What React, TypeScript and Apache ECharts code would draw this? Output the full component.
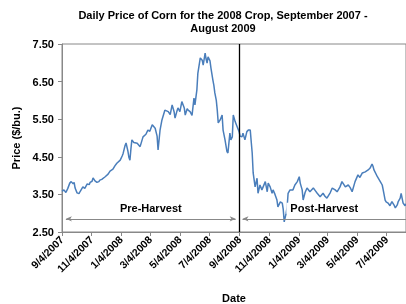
import React, { useEffect, useRef } from "react";
import * as echarts from "echarts";

// Days since 9/4/2007
const days = [
  0, 4, 8, 12, 16, 19, 23, 25, 27, 31, 35, 37, 43, 47, 52, 56, 58, 62, 64, 68, 72, 76, 78, 82, 89, 95, 99, 105, 109, 113,
  120, 124, 126, 130, 132, 136, 138, 140, 142, 144, 148, 155, 161, 167, 173, 177, 181, 186, 192, 196, 198, 202, 206, 212,
  219, 223, 227, 231, 233, 237, 239, 243, 247, 252, 254, 258, 260, 264, 268, 272, 274, 278, 280, 285, 289, 291, 295, 297,
  299, 301, 305, 307, 311, 313, 315, 318, 320, 322, 326, 330, 332, 336, 340, 342, 346, 348, 351, 353, 357, 361, 365, 367,
  371, 373, 377, 381, 384, 388, 390, 392, 394, 398, 402, 404, 408, 412, 419, 423, 425, 429, 433, 435, 439, 443, 445, 450,
  454, 456, 458, 462, 464, 466, 470, 476, 480, 485, 489, 491, 495, 497, 501, 505, 511, 518, 522, 526, 532, 538, 542, 546,
  553, 557, 563, 567, 573, 577, 584, 590, 594, 598, 604, 610, 614, 619, 625, 631, 635, 639, 641, 643, 650, 656, 660, 662,
  666, 668, 672, 676, 680, 685, 687, 691, 693, 697, 699, 703, 707, 709,
];
// Price ($/bu.)
const prices = [
  3.58, 3.62, 3.55, 3.66, 3.8, 3.84, 3.78, 3.82, 3.67, 3.54, 3.52, 3.57, 3.7, 3.66, 3.78, 3.76, 3.82, 3.85, 3.94, 3.86,
  3.82, 3.84, 3.88, 3.9, 3.97, 4.04, 4.12, 4.17, 4.26, 4.33, 4.41, 4.52, 4.59, 4.8, 4.87, 4.64, 4.48, 4.41, 4.7, 4.95,
  4.88, 4.86, 4.77, 5.03, 5.1, 5.21, 5.18, 5.35, 5.26, 5.05, 4.68, 5.2, 5.48, 5.74, 5.7, 5.62, 5.88, 5.7, 5.53, 5.72, 5.8,
  5.7, 5.97, 5.8, 5.61, 5.78, 5.74, 5.7, 5.6, 6.06, 5.88, 6.28, 6.72, 7.13, 7.07, 6.94, 7.26, 7.1, 6.99, 7.16, 7.05, 6.86,
  6.54, 6.4, 6.2, 6.0, 5.74, 5.4, 5.48, 5.61, 5.21, 4.95, 4.64, 4.6, 5.13, 4.95, 5.03, 5.61, 5.43, 5.3, 5.17, 5.05, 5.03,
  5.13, 4.95, 5.17, 5.21, 5.21, 4.9, 4.6, 4.07, 3.7, 3.93, 3.53, 3.75, 3.62, 3.84, 3.57, 3.8, 3.7, 3.53, 3.62, 3.5, 3.35,
  3.17, 3.3, 3.27, 3.1, 2.77, 3.0, 3.17, 3.53, 3.62, 3.62, 3.75, 3.84, 3.97, 3.8, 3.62, 3.35, 3.55, 3.67, 3.57, 3.67, 3.6,
  3.53, 3.44, 3.53, 3.45, 3.4, 3.55, 3.67, 3.62, 3.57, 3.7, 3.84, 3.7, 3.75, 3.68, 3.57, 3.84, 4.02, 3.95, 4.07, 4.1, 4.15,
  4.2, 4.31, 4.25, 4.15, 3.97, 3.84, 3.75, 3.62, 3.35, 3.3, 3.27, 3.2, 3.31, 3.2, 3.14, 3.22, 3.31, 3.4, 3.53, 3.27, 3.2,
  3.25,
];

const tickDays = [0, 61, 122, 182, 243, 304, 366, 427, 488, 547, 608, 669];
const tickLabels = [
  "9/4/2007", "11/4/2007", "1/4/2008", "3/4/2008", "5/4/2008", "7/4/2008",
  "9/4/2008", "11/4/2008", "1/4/2009", "3/4/2009", "5/4/2009", "7/4/2009",
];
const yTicks = [2.5, 3.5, 4.5, 5.5, 6.5, 7.5];
const harvestDay = 366;
const preHarvest = { label: "Pre-Harvest", from: 8, to: 358, y: 2.85 };
const postHarvest = { label: "Post-Harvest", from: 372, to: 709, y: 2.85 };

const FONT = "Liberation Sans, Arial, sans-serif";

export default function App() {
  const ref = useRef<HTMLDivElement>(null);
  useEffect(() => {
    if (!ref.current) return;
    const chart = echarts.init(ref.current, null, { renderer: "svg" });
    const labelStyle = {
      show: true,
      position: "middle",
      formatter: "{b}",
      color: "#000",
      fontFamily: FONT,
      fontWeight: "bold",
      fontSize: 11,
      backgroundColor: "#fff",
      padding: [0, 4],
    };
    chart.setOption({
      animation: false,
      title: {
        text: "Daily Price of Corn for the 2008 Crop, September 2007 -\nAugust 2009",
        left: 218,
        top: 3,
        textAlign: "center",
        textStyle: { fontFamily: FONT, fontWeight: "bold", fontSize: 11, color: "#000", lineHeight: 13 },
      },
      grid: {
        left: 62,
        right: 0,
        top: 44,
        bottom: 72,
        show: true,
        borderColor: "#888",
        borderWidth: 1,
        outerBoundsMode: "none",
        containLabel: false,
      },
      xAxis: {
        type: "value",
        min: 0,
        max: 709,
        name: "Date",
        nameLocation: "middle",
        nameGap: 60,
        nameTextStyle: { fontFamily: FONT, fontWeight: "bold", fontSize: 11, color: "#000" },
        axisLine: { lineStyle: { color: "#888" } },
        axisTick: { show: true, customValues: tickDays, length: 4, lineStyle: { color: "#888" } },
        splitLine: { show: false },
        axisLabel: {
          customValues: tickDays,
          rotate: 45,
          margin: 6,
          fontFamily: FONT,
          fontWeight: "bold",
          fontSize: 10.5,
          color: "#000",
          formatter: (v: number) => {
            const i = tickDays.indexOf(Math.round(v));
            return i >= 0 ? tickLabels[i] : "";
          },
        },
      },
      yAxis: {
        type: "value",
        min: 2.5,
        max: 7.5,
        name: "Price ($/bu.)",
        nameLocation: "middle",
        nameGap: 40,
        nameTextStyle: { fontFamily: FONT, fontWeight: "bold", fontSize: 11, color: "#000" },
        axisLine: { show: true, lineStyle: { color: "#888" } },
        axisTick: { show: true, customValues: yTicks, length: 4, lineStyle: { color: "#888" } },
        splitLine: { show: false },
        axisLabel: {
          customValues: yTicks,
          margin: 8,
          fontFamily: FONT,
          fontWeight: "bold",
          fontSize: 11,
          color: "#000",
          formatter: (v: number) => v.toFixed(2),
        },
      },
      series: [
        {
          type: "line",
          data: days.map((d, i) => [d, prices[i]]),
          showSymbol: false,
          symbol: "none",
          lineStyle: { color: "#4a7ebb", width: 1.5 },
          silent: true,
          markLine: {
            silent: true,
            animation: false,
            symbol: ["none", "none"],
            data: [
              {
                xAxis: harvestDay,
                symbol: "none",
                lineStyle: { color: "#000", width: 1.3, type: "solid" },
                label: { show: false },
              },
              [
                {
                  name: preHarvest.label,
                  coord: [preHarvest.from, preHarvest.y],
                  symbol: "arrow",
                  symbolSize: [4, 6],
                  lineStyle: { color: "#888", width: 1, type: "solid" },
                  itemStyle: { color: "#000" },
                  label: labelStyle,
                },
                { coord: [preHarvest.to, preHarvest.y], symbol: "arrow", symbolSize: [4, 6] },
              ],
              [
                {
                  name: postHarvest.label,
                  coord: [postHarvest.from, postHarvest.y],
                  symbol: "arrow",
                  symbolSize: [4, 6],
                  lineStyle: { color: "#888", width: 1, type: "solid" },
                  itemStyle: { color: "#000" },
                  label: labelStyle,
                },
                { coord: [postHarvest.to, postHarvest.y], symbol: "none" },
              ],
            ],
          },
        },
      ],
    });
    return () => chart.dispose();
  }, []);
  return <div ref={ref} style={{ position: "fixed", left: 0, top: 0, width: 406, height: 304 }} />;
}
